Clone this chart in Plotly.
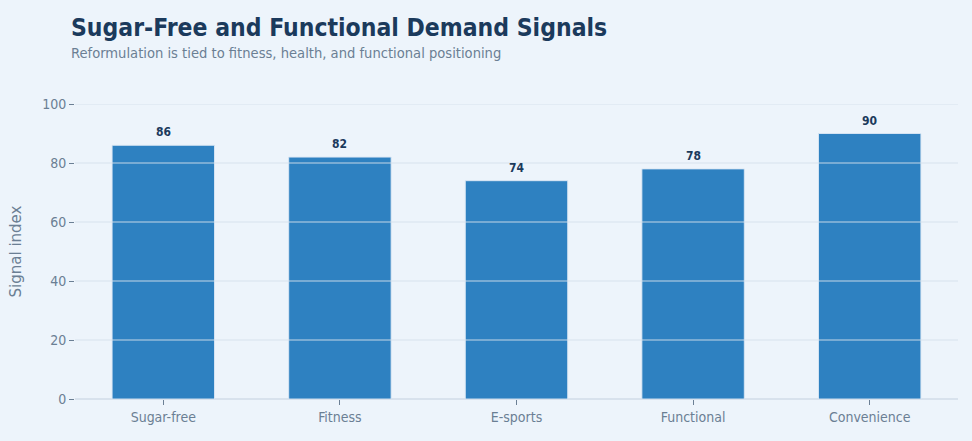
import plotly.graph_objects as go

# demand signals per segment
categories = ["Sugar-free", "Fitness", "E-sports", "Functional", "Convenience"]
signal_index = [86, 82, 74, 78, 90]
y_ticks = [0, 20, 40, 60, 80, 100]

BG = "#edf4fb"
BAR = "#2e81c1"
NAVY = "#1b3a5c"
MUTED = "#6b7f94"
GRID = "#d8e2ed"
COND = "DejaVu Sans Condensed, DejaVu Sans, sans-serif"

fig = go.Figure()

fig.add_trace(go.Bar(
    x=categories,
    y=signal_index,
    marker_color=BAR,
    marker_line=dict(color="rgba(220,232,245,0.9)", width=1),
    hoverinfo="x+y",
))

# value labels above each bar
for c, v in zip(categories, signal_index):
    fig.add_annotation(
        x=c, y=v, text="<b>%d</b>" % v,
        showarrow=False, yanchor="bottom", yshift=4,
        font=dict(family=COND, size=12, color=NAVY),
    )

# gridlines sit on top of the bars in the original
for t in y_ticks[1:]:
    fig.add_shape(
        type="line", xref="paper", x0=0, x1=1, yref="y", y0=t, y1=t,
        line=dict(color="rgba(212,223,235,0.9)", width=1.2),
        layer="above",
    )

# title + subtitle as annotations so they can be placed exactly
fig.add_annotation(
    text="<b>Sugar-Free and Functional Demand Signals</b>",
    xref="paper", yref="paper", x=-0.0070, y=1.261,
    xanchor="left", yanchor="middle", showarrow=False,
    font=dict(family=COND, size=24.5, color=NAVY),
)
fig.add_annotation(
    text="Reformulation is tied to fitness, health, and functional positioning",
    xref="paper", yref="paper", x=-0.0070, y=1.176,
    xanchor="left", yanchor="middle", showarrow=False,
    font=dict(family=COND, size=14.6, color=MUTED),
)

fig.update_layout(
    width=972,
    height=441,
    paper_bgcolor=BG,
    plot_bgcolor=BG,
    margin=dict(l=75, r=14, t=104, b=42),
    bargap=0.42,
    showlegend=False,
)

fig.update_xaxes(
    showgrid=False,
    showline=False,
    zeroline=False,
    ticks="outside",
    ticklen=5,
    tickcolor=MUTED,
    tickfont=dict(family=COND, size=14, color=MUTED),
)

fig.update_yaxes(
    range=[0, 100],
    tickvals=y_ticks,
    showgrid=False,
    zeroline=True,
    zerolinecolor=GRID,
    showline=False,
    ticks="outside",
    ticklen=5,
    tickcolor=MUTED,
    tickfont=dict(family=COND, size=14, color=MUTED),
    title=dict(text="Signal index", standoff=16,
               font=dict(family="DejaVu Sans, sans-serif", size=15, color=MUTED)),
)

fig.write_html("out.html", config={"displayModeBar": False},
               post_script="document.body.style.margin='0';")
